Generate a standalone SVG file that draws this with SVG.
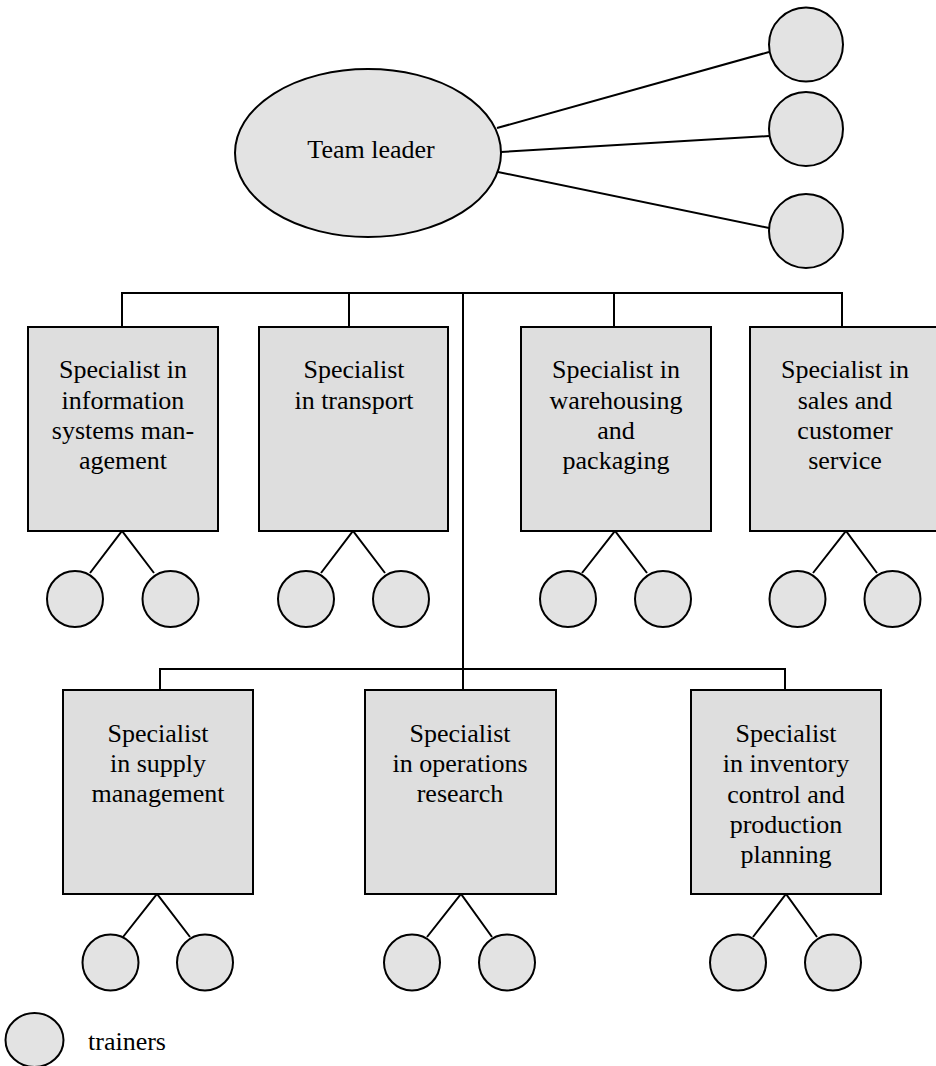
<svg xmlns="http://www.w3.org/2000/svg" width="936" height="1066" viewBox="0 0 936 1066">
<style>
.box{fill:#dedede;stroke:#000;stroke-width:2}
.tr{fill:#e3e3e3;stroke:#000;stroke-width:2}
.ln{stroke:#000;stroke-width:2;fill:none}
text{font-family:"Liberation Serif","Times New Roman",serif;font-size:26px;fill:#000;text-anchor:middle}
</style>
<rect width="936" height="1066" fill="#fff"/>
<g id="connectors">
<line class="ln" x1="497" y1="128" x2="769" y2="52"/>
<line class="ln" x1="501" y1="152" x2="769" y2="136"/>
<line class="ln" x1="498" y1="172" x2="769" y2="228"/>
<polyline class="ln" points="122,327 122,293 842,293 842,327"/>
<line class="ln" x1="349" y1="293" x2="349" y2="327"/>
<line class="ln" x1="614" y1="293" x2="614" y2="327"/>
<line class="ln" x1="463" y1="293" x2="463" y2="690"/>
<polyline class="ln" points="160,690 160,669 785,669 785,690"/>
<polyline class="ln" points="90,573 122,531 154,573"/>
<polyline class="ln" points="321,573 353,531 385,573"/>
<polyline class="ln" points="582,573 615,531 647,573"/>
<polyline class="ln" points="813,573 846,531 877,573"/>
<polyline class="ln" points="123,937 157,894 190,937"/>
<polyline class="ln" points="427,937 461,894 492,937"/>
<polyline class="ln" points="753,937 786,894 817,937"/>
</g>
<g id="leader">
<ellipse class="tr" cx="368" cy="153" rx="133" ry="84"/>
<text x="371" y="158">Team leader</text>
</g>
<g id="leader-trainers">
<circle class="tr" cx="806" cy="44.5" r="37"/>
<circle class="tr" cx="806" cy="129" r="37"/>
<circle class="tr" cx="806" cy="231" r="37"/>
</g>
<g id="box-info">
<rect class="box" x="28" y="327" width="190" height="204"/>
<text x="123" y="378">Specialist in</text>
<text x="123" y="409">information</text>
<text x="123" y="439">systems man-</text>
<text x="123" y="469">agement</text>
<circle class="tr" cx="75" cy="599" r="28"/>
<circle class="tr" cx="170.5" cy="599" r="28"/>
</g>
<g id="box-transport">
<rect class="box" x="259" y="327" width="189" height="204"/>
<text x="354" y="378">Specialist</text>
<text x="354" y="409">in transport</text>
<circle class="tr" cx="306" cy="599" r="28"/>
<circle class="tr" cx="401" cy="599" r="28"/>
</g>
<g id="box-warehousing">
<rect class="box" x="521" y="327" width="190" height="204"/>
<text x="616" y="378">Specialist in</text>
<text x="616" y="409">warehousing</text>
<text x="616" y="439">and</text>
<text x="616" y="469">packaging</text>
<circle class="tr" cx="568" cy="599" r="28"/>
<circle class="tr" cx="663" cy="599" r="28"/>
</g>
<g id="box-sales">
<rect class="box" x="750" y="327" width="190" height="204"/>
<text x="845" y="378">Specialist in</text>
<text x="845" y="409">sales and</text>
<text x="845" y="439">customer</text>
<text x="845" y="469">service</text>
<circle class="tr" cx="797.5" cy="599" r="28"/>
<circle class="tr" cx="892.5" cy="599" r="28"/>
</g>
<g id="box-supply">
<rect class="box" x="63" y="690" width="190" height="204"/>
<text x="158" y="742">Specialist</text>
<text x="158" y="772">in supply</text>
<text x="158" y="802">management</text>
<circle class="tr" cx="110.5" cy="962.5" r="28"/>
<circle class="tr" cx="205" cy="962.5" r="28"/>
</g>
<g id="box-operations">
<rect class="box" x="365" y="690" width="191" height="204"/>
<text x="460" y="742">Specialist</text>
<text x="460" y="772">in operations</text>
<text x="460" y="802">research</text>
<circle class="tr" cx="412" cy="962.5" r="28"/>
<circle class="tr" cx="507" cy="962.5" r="28"/>
</g>
<g id="box-inventory">
<rect class="box" x="691" y="690" width="190" height="204"/>
<text x="786" y="742">Specialist</text>
<text x="786" y="772">in inventory</text>
<text x="786" y="803">control and</text>
<text x="786" y="833">production</text>
<text x="786" y="863">planning</text>
<circle class="tr" cx="738" cy="962.5" r="28"/>
<circle class="tr" cx="833" cy="962.5" r="28"/>
</g>
<g id="legend">
<ellipse class="tr" cx="34.5" cy="1040" rx="29" ry="27"/>
<text x="88" y="1050" style="text-anchor:start">trainers</text>
</g>
</svg>
